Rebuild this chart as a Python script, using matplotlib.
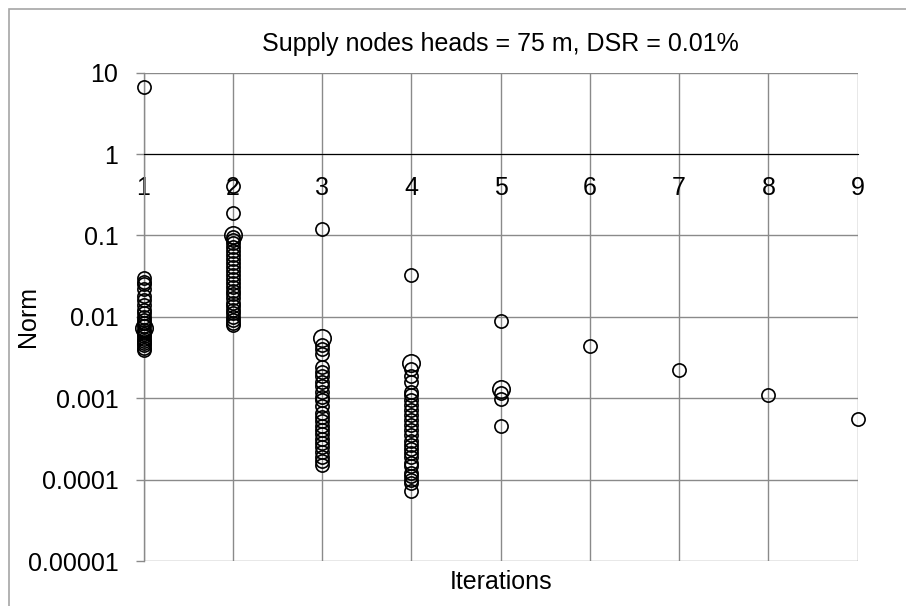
import matplotlib
matplotlib.use("Agg")
import matplotlib.pyplot as plt
from matplotlib.patches import Rectangle
from matplotlib.ticker import FixedLocator, FixedFormatter

plt.rcParams['font.family'] = ['Liberation Sans', 'DejaVu Sans']

title = "Supply nodes heads = 75 m, DSR = 0.01%"
x_label = "Iterations"
y_label = "Norm"
iterations = [1, 2, 3, 4, 5, 6, 7, 8, 9]
y_ticks = [1e-5, 1e-4, 1e-3, 1e-2, 1e-1, 1, 10]
y_tick_labels = ["0.00001", "0.0001", "0.001", "0.01", "0.1", "1", "10"]

norm_it1 = [6.6, 0.030, 0.027, 0.025, 0.022, 0.018, 0.016, 0.014, 0.012, 0.011,
            0.010, 0.0092, 0.0085, 0.0078, 0.0068, 0.0065, 0.0062, 0.0058,
            0.0054, 0.0051, 0.0048, 0.0045, 0.0042, 0.0039]
norm_it2 = [0.40, 0.19, 0.095, 0.088, 0.080, 0.072, 0.065, 0.058, 0.052, 0.046,
            0.041, 0.037, 0.033, 0.029, 0.026, 0.023, 0.021, 0.019, 0.017,
            0.015, 0.0135, 0.012, 0.011, 0.010, 0.0092, 0.0085, 0.0079]
norm_it3 = [0.12, 0.0045, 0.0040, 0.0035, 0.0024, 0.0021, 0.0019, 0.0016,
            0.0014, 0.0012, 0.00105, 0.00095, 0.0008, 0.00065, 0.00058,
            0.00052, 0.00046, 0.00041, 0.00036, 0.00032, 0.00028, 0.00025,
            0.00022, 0.00019, 0.00017, 0.00015]
norm_it4 = [0.033, 0.0023, 0.0019, 0.0016, 0.0012, 0.0011, 0.00095, 0.00082,
            0.00072, 0.00062, 0.00054, 0.00047, 0.00041, 0.00035, 0.0003,
            0.00027, 0.00024, 0.00021, 0.00019, 0.00016, 0.000145, 0.00012,
            0.00011, 0.0001, 0.00009, 0.000072]
norm_it5 = [0.0088, 0.00117, 0.00097, 0.00046]
norm_it6 = [0.0044]
norm_it7 = [0.0022]
norm_it8 = [0.0011]
norm_it9 = [0.00055]
# second series (drawn with a bigger marker)
big_iter = [1, 2, 3, 4, 5]
big_norm = [0.0072, 0.10, 0.0055, 0.0027, 0.0013]

series = [norm_it1, norm_it2, norm_it3, norm_it4, norm_it5,
          norm_it6, norm_it7, norm_it8, norm_it9]

W, H = 906, 606
fig = plt.figure(figsize=(W / 100, H / 100), dpi=100)
L, R, T, B = 143.5, 857.7, 72.7, 561.0
ax = fig.add_axes([L / W, 1 - B / H, (R - L) / W, (B - T) / H])

grid_c = "#8a8a8a"
for it, vals in zip(iterations, series):
    ax.plot([it] * len(vals), vals, linestyle="none", marker="o", ms=9.5,
            mfc="none", mec="black", mew=1.2, zorder=4, clip_on=False)
ax.plot(big_iter, big_norm, linestyle="none", marker="o", ms=12.5,
        mfc="none", mec="black", mew=1.2, zorder=4, clip_on=False)

ax.set_yscale("log")
ax.set_xlim(iterations[0], iterations[-1])
ax.set_ylim(y_ticks[0], y_ticks[-1])
ax.yaxis.set_major_locator(FixedLocator(y_ticks))
ax.yaxis.set_major_formatter(FixedFormatter(y_tick_labels))
ax.yaxis.set_minor_locator(FixedLocator([]))
ax.set_xticks(iterations)
ax.set_xticklabels([str(i) for i in iterations])

ax.grid(True, which="major", color=grid_c, linewidth=1.0, zorder=1)
ax.set_axisbelow(True)
for s in ["top", "right"]:
    ax.spines[s].set_visible(False)
ax.spines["left"].set_color(grid_c)
ax.spines["left"].set_linewidth(1.0)
ax.spines["bottom"].set_position(("data", 1))
ax.spines["bottom"].set_color("black")
ax.spines["bottom"].set_linewidth(0.8)
ax.spines["bottom"].set_zorder(3)

ax.tick_params(axis="y", direction="out", length=5.5, width=1.0, color=grid_c,
               labelsize=18, pad=12.5)
ax.tick_params(axis="x", length=0, labelsize=18, pad=15.5)

fig.text((L + R) / 2 / W, 1 - 44 / H, title, ha="center", va="center", fontsize=18)
fig.text(28 / W, 1 - (T + B) / 2 / H, y_label, ha="center", va="center",
         rotation=90, fontsize=18)
fig.text((L + R) / 2 / W, 1 - 582 / H, x_label, ha="center", va="center", fontsize=18)

fig.patches.append(Rectangle((9 / W, -0.1), 2, 1.1 - 8.5 / H, transform=fig.transFigure,
                             fill=False, edgecolor="#a6a6a6", linewidth=1.2))

fig.savefig("out.png", dpi=100)
